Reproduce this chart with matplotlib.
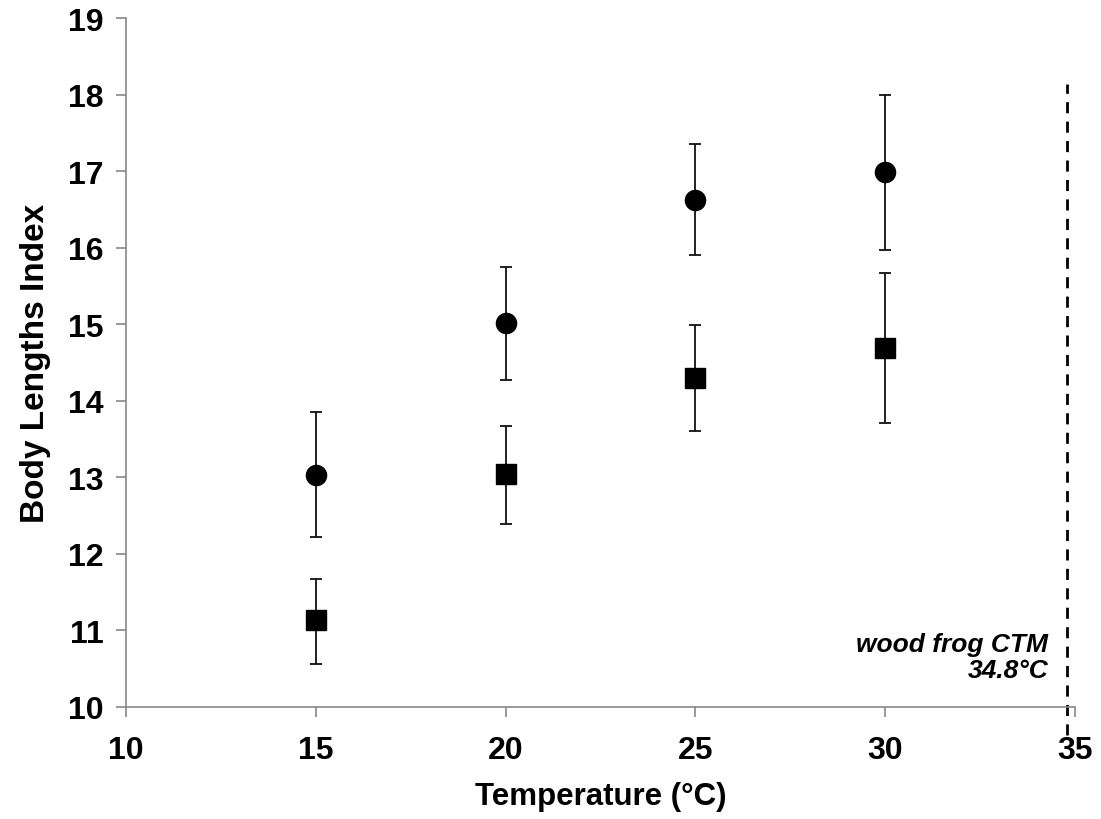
import matplotlib.pyplot as plt

plt.rcParams['font.family'] = ['Liberation Sans', 'DejaVu Sans']
plt.rcParams['font.weight'] = 'bold'

temps = [15, 20, 25, 30]

# circles
circ_mean = [13.03, 15.02, 16.63, 16.99]
circ_lo = [12.22, 14.27, 15.91, 15.97]
circ_hi = [13.85, 15.75, 17.35, 18.00]

# squares
sq_mean = [11.14, 13.05, 14.30, 14.69]
sq_lo = [10.56, 12.39, 13.61, 13.71]
sq_hi = [11.67, 13.67, 14.99, 15.67]

ctm = 34.8

fig = plt.figure(figsize=(11.01, 8.2), dpi=100)
ax = fig.add_axes([0.1144, 0.1366, 0.862, 0.840])

circ_err = [[m - l for m, l in zip(circ_mean, circ_lo)],
            [h - m for m, h in zip(circ_mean, circ_hi)]]
sq_err = [[m - l for m, l in zip(sq_mean, sq_lo)],
          [h - m for m, h in zip(sq_mean, sq_hi)]]

ax.errorbar(temps, circ_mean, yerr=circ_err, fmt='o', color='black',
            markersize=14.5, ecolor='#111111', elinewidth=1.3, capsize=4.5,
            capthick=1.3)
ax.errorbar(temps, sq_mean, yerr=sq_err, fmt='s', color='black',
            markersize=14, ecolor='#111111', elinewidth=1.3, capsize=4.5,
            capthick=1.3)

ax.axvline(ctm, color='black', linestyle=(0, (4, 3)), linewidth=2,
           ymin=-0.04, ymax=0.905, clip_on=False)
ax.text(34.3, 10.33, 'wood frog CTM\n34.8°C', ha='right', va='bottom',
        multialignment='right', fontsize=19, fontstyle='italic',
        fontweight='bold', linespacing=1.1)

ax.set_xlim(10, 35)
ax.set_ylim(10, 19)
ax.set_xticks([10, 15, 20, 25, 30, 35])
ax.set_yticks(range(10, 20))

for s in ['top', 'right']:
    ax.spines[s].set_visible(False)
for s in ['left', 'bottom']:
    ax.spines[s].set_color('#888888')
    ax.spines[s].set_linewidth(1.2)
ax.tick_params(colors='#888888', labelcolor='black', labelsize=23,
               length=7, width=1.2, direction='out')
ax.tick_params(axis='x', pad=13)
ax.tick_params(axis='y', pad=9)

ax.set_xlabel('Temperature (°C)', fontsize=22.5, fontweight='bold', labelpad=12)
ax.set_ylabel('Body Lengths Index', fontsize=24, fontweight='bold', labelpad=12)

fig.savefig('out.png', dpi=100)
